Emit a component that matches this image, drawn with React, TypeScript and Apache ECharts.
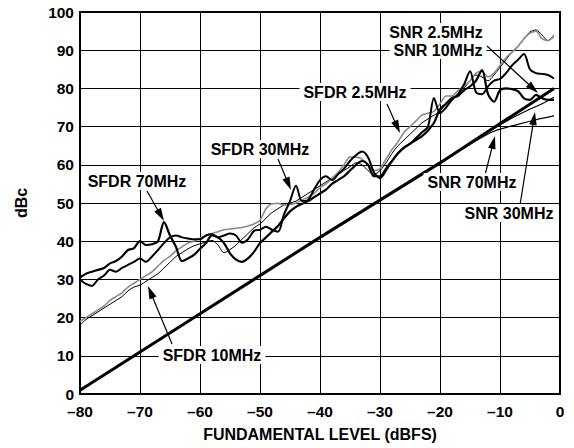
import React, { useEffect, useRef } from "react";
import * as echarts from "echarts";

// Input level samples (dBFS), -80 ... -1
const levels = [
  -80, -79, -78, -77, -76, -75, -74, -73, -72, -71,
  -70, -69, -68, -67, -66, -65, -64, -63, -62, -61,
  -60, -59, -58, -57, -56, -55, -54, -53, -52, -51,
  -50, -49, -48, -47, -46, -45, -44, -43, -42, -41,
  -40, -39, -38, -37, -36, -35, -34, -33, -32, -31,
  -30, -29, -28, -27, -26, -25, -24, -23, -22, -21,
  -20, -19, -18, -17, -16, -15, -14, -13, -12, -11,
  -10, -9, -8, -7, -6, -5, -4, -3, -2, -1,
];

const sfdr25 = [
  19, 20, 21, 22, 23, 24.5, 25.5, 26.5, 28, 29,
  30, 31, 32, 33.5, 35, 36, 37.5, 38.5, 39.5, 40,
  40.8, 41.5, 42, 42.5, 43, 43.2, 43.4, 43.6, 44, 44.5,
  45.5, 48.5, 49.8, 49.9, 49.5, 49.6, 50, 50.8, 51.5, 52.5,
  54, 55, 56.5, 58, 60, 62, 62, 61.5, 60, 58.5,
  59, 61.5, 64, 66, 68.5, 70, 71.5, 73, 73.5, 74,
  76, 78, 78, 79.5, 80.5, 82, 84, 84.5, 83, 84,
  86, 88, 89.5, 91, 93, 94.5, 95, 93, 92.5, 94,
];

const sfdr10 = [
  18, 19.5, 20.5, 21.5, 22.5, 23.5, 24.5, 25.5, 27, 28,
  28.5, 29.5, 30.5, 31.5, 33, 34.5, 36, 37, 38, 38.8,
  39.3, 39.8, 40.2, 39, 37, 37.8, 39, 40.5, 42, 43.5,
  44.5, 46, 47.5, 48.5, 49.5, 50, 50.5, 51.5, 52.5, 53.5,
  54.5, 55.5, 56.5, 57.5, 58.5, 59.5, 60.5, 60, 58.5, 57.5,
  58.5, 60.5, 63, 65, 66.5, 68, 69.5, 71, 72, 73,
  74, 76, 77, 78.5, 80, 82, 83.5, 83, 82, 83.5,
  85.5, 87.5, 89.5, 91, 93, 94.8, 95.3, 94, 92.5, 93.5,
];

const sfdr30 = [
  30, 28.8, 28.3, 30, 31, 32.5, 32, 33, 33.8, 34.6,
  35.5, 34.6, 36, 37.7, 39.5, 41, 41.5, 41, 40.7, 40.5,
  40.5, 41.5, 41.8, 41, 41.5, 42, 41.5, 39.6, 40.5, 42.7,
  43, 43.8, 43, 42.5, 47, 50.5, 54.5, 50.5, 50.8, 53.5,
  56, 57, 56, 57.5, 59, 61, 62.5, 63.5, 62, 58,
  56.5, 58.5, 61, 63, 64.5, 65.5, 67, 68.5, 70, 77.5,
  73.5, 75, 77, 78.5, 81, 84.5, 79, 78.5, 80.5, 82,
  82.5, 84, 86, 87.5, 89, 85, 84, 83.8, 83.5, 82.6,
];

const sfdr70 = [
  30.5, 31.5, 32, 32.5, 33, 34.2, 34.8, 36, 37.7, 38.2,
  40, 39, 39.2, 40, 45, 41.5, 38.5, 34.8, 35.5, 36.4,
  38, 39.5, 41.5, 41, 39.5, 36.8, 35.2, 34.6, 35.5, 37.2,
  39.5, 41, 42.5, 44, 46, 47.8, 49, 49.8, 50.5, 51.5,
  52.5, 53.5, 55, 56, 57, 58.5, 60, 61, 60, 57,
  57, 59, 61, 63, 64.5, 65.5, 66.5, 67.5, 69, 71,
  74.5, 76, 77.5, 78, 79.5, 80.5, 82, 84.8, 78.5, 76.5,
  79.5, 80, 79.8, 79.3, 77.4, 77, 78.3, 77.4, 77, 77,
];

// SNR curves (read at a few levels)
const snrLowLevels = [-80, -60, -40, -20, -1];
const snrLow = [1, 21, 41, 60.5, 80];
const snr30Levels = [-80, -40, -15, -10, -6, -3, -1];
const snr30 = [1, 41, 65.6, 70.5, 73.8, 76, 77.7];
const snr70Levels = [-80, -40, -20, -14, -11, -7, -4, -1];
const snr70 = [1, 41, 60.5, 66.3, 68.8, 70.6, 71.8, 72.8];

const xTicks = [-80, -70, -60, -50, -40, -30, -20, -10, 0];

const zip = (xs: number[], ys: number[]) => xs.map((x, i) => [x, ys[i]]);

const FONT = '"Liberation Sans", Arial, Helvetica, sans-serif';

// annotation placement (pixels)
const labels = [
  { text: "SNR 2.5MHz", x: 436, y: 32 },
  { text: "SNR 10MHz", x: 438, y: 50 },
  { text: "SFDR 2.5MHz", x: 355, y: 92 },
  { text: "SFDR 30MHz", x: 260, y: 149 },
  { text: "SFDR 70MHz", x: 137, y: 181 },
  { text: "SFDR 10MHz", x: 212, y: 355 },
  { text: "SNR 70MHz", x: 472, y: 182 },
  { text: "SNR 30MHz", x: 509, y: 213 },
];

const arrows = [
  { from: [147, 191], to: [164, 221] },
  { from: [278, 159], to: [291, 190] },
  { from: [387, 104], to: [400, 133] },
  { from: [172, 344], to: [148, 286] },
  { from: [487, 46], to: [538, 93] },
  { from: [485, 175], to: [495, 136] },
  { from: [520, 205], to: [535, 112] },
];

function arrowGraphics() {
  const out: any[] = [];
  arrows.forEach((a) => {
    const [x1, y1] = a.from;
    const [x2, y2] = a.to;
    const dx = x2 - x1;
    const dy = y2 - y1;
    const len = Math.sqrt(dx * dx + dy * dy);
    const ux = dx / len;
    const uy = dy / len;
    const headLen = 13;
    const headHalf = 3.8;
    const bx = x2 - ux * headLen;
    const by = y2 - uy * headLen;
    out.push({
      type: "line",
      z: 100,
      shape: { x1, y1, x2: bx + ux * 2, y2: by + uy * 2 },
      style: { stroke: "#000", lineWidth: 1.2 },
    });
    out.push({
      type: "polygon",
      z: 100,
      shape: {
        points: [
          [x2, y2],
          [bx - uy * headHalf, by + ux * headHalf],
          [bx + uy * headHalf, by - ux * headHalf],
        ],
      },
      style: { fill: "#000" },
    });
  });
  return out;
}

function labelGraphics() {
  return labels.map((l) => ({
    type: "text",
    z: 101,
    x: l.x,
    y: l.y,
    style: {
      text: l.text,
      fill: "#000",
      font: `bold 16px ${FONT}`,
      align: "center",
      verticalAlign: "middle",
      backgroundColor: "#fff",
      padding: [1, 4, 1, 4],
    },
  }));
}

export default function App() {
  const ref = useRef<HTMLDivElement>(null);

  useEffect(() => {
    if (!ref.current) return;
    const chart = echarts.init(ref.current, undefined, { renderer: "svg" });
    const lineBase = { type: "line", showSymbol: false, symbol: "none", silent: true };
    chart.setOption({
      animation: false,
      backgroundColor: "#fff",
      textStyle: { fontFamily: FONT },
      grid: {
        left: 80,
        right: 14,
        top: 12,
        bottom: 54,
        show: true,
        borderColor: "#000",
        borderWidth: 2,
      },
      xAxis: {
        type: "value",
        min: -80,
        max: 0,
        interval: 10,
        name: "FUNDAMENTAL LEVEL (dBFS)",
        nameLocation: "middle",
        nameGap: 32,
        nameTextStyle: { fontWeight: "bold", fontSize: 16, color: "#000", fontFamily: FONT },
        axisLine: { show: true, lineStyle: { color: "#000", width: 2 } },
        axisTick: { show: false },
        axisLabel: {
          color: "#000",
          fontWeight: "bold",
          fontSize: 15.5,
          fontFamily: FONT,
          margin: 9,
          formatter: (v: number) => (xTicks.includes(v) ? String(v).replace("-", "\u2013") : ""),
        },
        splitLine: { show: true, lineStyle: { color: "#000", width: 1 } },
      },
      yAxis: {
        type: "value",
        min: 0,
        max: 100,
        interval: 10,
        name: "dBc",
        nameLocation: "middle",
        nameGap: 51,
        nameRotate: 90,
        nameTextStyle: { fontWeight: "bold", fontSize: 16, color: "#000", fontFamily: FONT },
        axisLine: { show: true, lineStyle: { color: "#000", width: 2 } },
        axisTick: { show: false },
        axisLabel: {
          color: "#000",
          fontWeight: "bold",
          fontSize: 15.5,
          fontFamily: FONT,
          margin: 6,
        },
        splitLine: { show: true, lineStyle: { color: "#000", width: 1 } },
      },
      series: [
        { ...lineBase, name: "SNR 2.5MHz / 10MHz", data: zip(snrLowLevels, snrLow), lineStyle: { color: "#000", width: 3 }, z: 3 },
        { ...lineBase, name: "SNR 30MHz", data: zip(snr30Levels, snr30), smooth: 0.3, lineStyle: { color: "#000", width: 1.2 }, z: 3 },
        { ...lineBase, name: "SNR 70MHz", data: zip(snr70Levels, snr70), smooth: 0.3, lineStyle: { color: "#000", width: 1.2 }, z: 3 },
        { ...lineBase, name: "SFDR 10MHz", data: zip(levels, sfdr10), smooth: 0.3, lineStyle: { color: "#000", width: 1 }, z: 4 },
        { ...lineBase, name: "SFDR 2.5MHz", data: zip(levels, sfdr25), smooth: 0.3, lineStyle: { color: "#8a8a8a", width: 1.6 }, z: 4 },
        { ...lineBase, name: "SFDR 30MHz", data: zip(levels, sfdr30), smooth: 0.3, lineStyle: { color: "#000", width: 2 }, z: 5 },
        { ...lineBase, name: "SFDR 70MHz", data: zip(levels, sfdr70), smooth: 0.3, lineStyle: { color: "#000", width: 2.2 }, z: 5 },
      ],
      graphic: [...arrowGraphics(), ...labelGraphics()],
    });
    return () => chart.dispose();
  }, []);

  return (
    <div
      ref={ref}
      style={{ position: "fixed", left: 0, top: 0, width: 574, height: 448, background: "#fff" }}
    />
  );
}
